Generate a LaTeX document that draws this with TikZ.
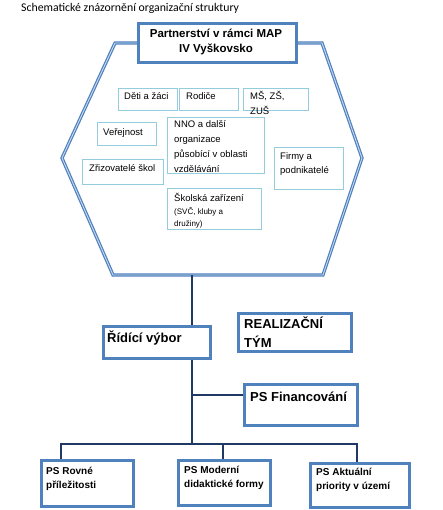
\documentclass[tikz,border=0pt]{standalone}
\usepackage{fontspec}
\setmainfont{Liberation Sans}
\newfontfamily\capfont{Carlito}
\definecolor{boxblue}{HTML}{4F81BD}
\definecolor{lightbox}{HTML}{93CDDD}
\definecolor{navy}{HTML}{1F3864}
\definecolor{hexin}{HTML}{C6D9F1}
\begin{document}
\begin{tikzpicture}[x=1pt,y=-1pt,
  bigbox/.style={draw=boxblue,line width=3pt,fill=white,inner sep=0pt,anchor=north west},
  smallbox/.style={draw=lightbox,line width=1.4pt,fill=white,inner sep=0pt,anchor=north west},
  txt/.style={inner sep=0pt,anchor=base west,align=left},
  smalltxt/.style={txt,font=\fontsize{9.5}{14.5}\selectfont},
  boldtxt/.style={txt,font=\bfseries\fontsize{13}{19}\selectfont},
  pstxt/.style={txt,font=\bfseries\fontsize{10}{14}\selectfont},
  conn/.style={draw=navy,line width=2.3pt}]
\useasboundingbox (0,0) rectangle (442,510);
\fill[white] (0,0) rectangle (442,510);
% caption
\node[txt,font=\capfont\fontsize{11.8}{13}\selectfont] (cap) at (21,12) {Schematické znázornění organizační struktury};
% hexagon
\coordinate (h1) at (115,43);
\coordinate (h2) at (322,43);
\coordinate (h3) at (362,158);
\coordinate (h4) at (323,275);
\coordinate (h5) at (113,275);
\coordinate (h6) at (62,158);
\draw[draw=boxblue,line width=1.2pt,double=hexin,double distance=0.9pt,line join=miter]
  (h1) -- (h2) -- (h3) -- (h4) -- (h5) -- (h6) -- cycle;
\coordinate (hexb) at (192,275);
% title box
\node[bigbox,minimum width=158pt,minimum height=39pt] (title) at (137,22) {};
\node[inner sep=0pt,align=center,font=\bfseries\fontsize{11.5}{15}\selectfont,anchor=base] (titletxt) at (216,52.5) {Partnerství v rámci MAP\\IV Vyškovsko};
% inner boxes
\node[smallbox,minimum width=59pt,minimum height=22pt] (deti) at (118,88) {};
\node[smallbox,minimum width=59pt,minimum height=22pt] (rodice) at (179,88) {};
\node[smallbox,minimum width=65pt,minimum height=22pt] (ms) at (243,88) {};
\node[smallbox,minimum width=59pt,minimum height=23pt] (ver) at (97,122) {};
\node[smallbox,minimum width=97pt,minimum height=56pt] (nno) at (167,117) {};
\node[smallbox,minimum width=81pt,minimum height=25pt] (zriz) at (82,159) {};
\node[smallbox,minimum width=69pt,minimum height=42pt] (firmy) at (274,147) {};
\node[smallbox,minimum width=94pt,minimum height=41pt] (skol) at (167,188) {};
\node[smalltxt] (detit) at (124,100) {Děti a žáci};
\node[smalltxt] (rodicet) at (186,100) {Rodiče};
\node[smalltxt] (mst) at (250,114.5) {MŠ, ZŠ,\\ZUŠ};
\node[smalltxt] (vert) at (103,136) {Veřejnost};
\node[smalltxt,font=\fontsize{9.5}{15}\selectfont] (nnot) at (174,173) {NNO a další\\organizace\\působící v oblasti\\vzdělávání};
\node[smalltxt] (zrizt) at (89,172) {Zřizovatelé škol};
\node[smalltxt] (firmyt) at (280,174) {Firmy a\\podnikatelé};
\node[smalltxt] (skolt) at (174,202) {Školská zařízení};
\node[txt,font=\fontsize{8}{12}\selectfont] (skolt2) at (174,226) {(SVČ, kluby a\\družiny)};
% lower boxes
\node[bigbox,minimum width=107pt,minimum height=32pt] (rv) at (102,325) {};
\node[bigbox,minimum width=113pt,minimum height=38pt] (rt) at (237,312) {};
\node[bigbox,minimum width=113pt,minimum height=41pt] (fin) at (243,383) {};
\node[bigbox,minimum width=92pt,minimum height=46pt] (ps1) at (40,459) {};
\node[bigbox,minimum width=92pt,minimum height=45pt] (ps2) at (177,459) {};
\node[bigbox,minimum width=99pt,minimum height=44pt] (ps3) at (309,462) {};
\node[boldtxt] (rvt) at (107,342) {Řídící výbor};
\node[boldtxt] (rtt) at (244,347) {REALIZAČNÍ\\TÝM};
\node[boldtxt] (fint) at (250,401) {PS Financování};
\node[pstxt] (ps1t) at (46,488) {PS Rovné\\příležitosti};
\node[pstxt] (ps2t) at (184,487) {PS Moderní\\didaktické formy};
\node[pstxt] (ps3t) at (316,489) {PS Aktuální\\priority v území};
% connectors
\coordinate (jf) at (192,395);
\coordinate (jb) at (192,444);
\coordinate (jl) at (61,444);
\coordinate (jm) at (223,444);
\coordinate (jr) at (357,444);
\draw[conn] (hexb) -- (hexb |- rv.north);
\draw[conn] (rv.south -| hexb) -- (jb);
\draw[conn] (jf) -- (fin.west |- jf);
\draw[conn,line cap=rect] (jl) -- (jr);
\draw[conn] (jl) -- (jl |- ps1.north);
\draw[conn] (jm) -- (jm |- ps2.north);
\draw[conn] (jr) -- (jr |- ps3.north);
\end{tikzpicture}
\end{document}
